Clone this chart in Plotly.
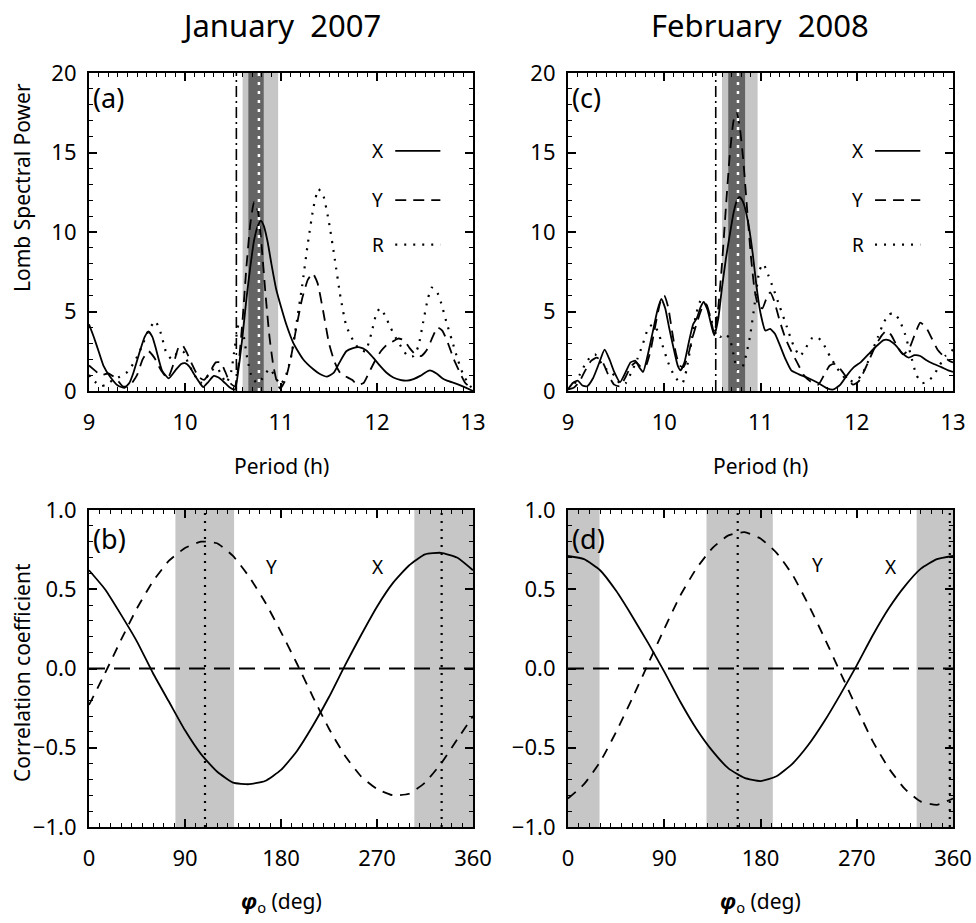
import plotly.graph_objects as go

W, H = 976, 923
FONT = "Noto Sans"

# ---------------- data: top panels (Lomb periodograms) ----------------
# (a) January 2007
xa_period = [9.00, 9.05, 9.10, 9.15, 9.22, 9.30, 9.37, 9.42, 9.46, 9.53, 9.58, 9.62, 9.66, 9.70, 9.76,
             9.83, 9.90, 9.96, 10.00, 10.05, 10.10, 10.16, 10.19, 10.24, 10.30, 10.35, 10.40, 10.47,
             10.52, 10.56, 10.60, 10.64, 10.68, 10.72, 10.76, 10.79, 10.82, 10.86, 10.90, 10.95, 11.00,
             11.06, 11.13, 11.23, 11.34, 11.41, 11.48, 11.55, 11.61, 11.68, 11.75, 11.82, 11.89, 11.96,
             12.03, 12.10, 12.17, 12.24, 12.31, 12.38, 12.45, 12.50, 12.55, 12.62, 12.68, 12.73, 12.83,
             12.93, 13.00]
xa_power = [4.2, 3.4, 2.5, 1.6, 0.9, 0.35, 0.2, 0.5, 1.1, 2.5, 3.4, 3.75, 3.4, 2.6, 1.3,
            0.8, 1.3, 1.7, 1.75, 1.5, 1.0, 0.45, 0.25, 0.55, 0.95, 0.85, 0.6, 0.2,
            0.1, 1.5, 3.5, 5.8, 7.8, 9.5, 10.4, 10.7, 10.4, 9.4, 8.0, 6.4, 5.3,
            4.1, 3.0, 2.0, 1.35, 1.05, 0.9, 1.15, 1.8, 2.5, 2.7, 2.75, 2.55, 2.1,
            1.6, 1.15, 0.85, 0.7, 0.65, 0.75, 0.95, 1.15, 1.3, 1.1, 0.8, 0.65, 0.45,
            0.2, 0.0]

ya_period = [9.0, 9.06, 9.12, 9.2, 9.28, 9.35, 9.42, 9.5, 9.56, 9.62, 9.68, 9.75, 9.82, 9.88, 9.93,
             9.97, 10.02, 10.08, 10.14, 10.2, 10.26, 10.32, 10.37, 10.42, 10.47, 10.52, 10.56, 10.6,
             10.64, 10.68, 10.72, 10.76, 10.8, 10.84, 10.88, 10.92, 10.96, 10.99, 11.04, 11.1, 11.16,
             11.22, 11.28, 11.33, 11.38, 11.44, 11.5, 11.56, 11.62, 11.68, 11.74, 11.8, 11.86, 11.92,
             11.98, 12.04, 12.1, 12.16, 12.22, 12.28, 12.34, 12.4, 12.46, 12.52, 12.58, 12.63, 12.68,
             12.74, 12.8, 12.86, 12.92, 13.0]
ya_power = [1.6, 1.3, 1.0, 1.1, 0.8, 0.3, 0.3, 1.0, 2.0, 2.5, 2.1, 1.3, 0.8, 1.7, 2.7,
            2.9, 2.4, 1.6, 0.9, 0.7, 1.2, 1.8, 1.8, 1.2, 0.5, 0.3, 1.8, 4.5,
            7.8, 10.5, 11.9, 11.3, 9.0, 6.0, 3.4, 1.6, 0.5, 0.15, 0.6, 2.0, 4.0,
            5.8, 7.0, 7.4, 6.8, 5.0, 3.0, 1.8, 1.1, 0.9, 0.7, 0.4, 0.5, 1.2,
            1.9, 2.5, 2.9, 3.1, 3.3, 3.2, 2.7, 2.3, 2.2, 2.6, 3.4, 4.0, 3.8,
            3.0, 2.0, 1.2, 0.5, 0.1]

ra_period = [9.0, 9.06, 9.12, 9.18, 9.25, 9.32, 9.4, 9.48, 9.55, 9.62, 9.69, 9.75, 9.8, 9.86, 9.92,
             9.98, 10.03, 10.1, 10.16, 10.22, 10.28, 10.33, 10.38, 10.43, 10.48, 10.52, 10.56, 10.6,
             10.65, 10.7, 10.76, 10.82, 10.88, 10.94, 10.99, 11.04, 11.1, 11.16, 11.22, 11.28, 11.34,
             11.39, 11.44, 11.5, 11.56, 11.62, 11.68, 11.75, 11.82, 11.88, 11.94, 11.99, 12.03, 12.08,
             12.14, 12.2, 12.26, 12.32, 12.38, 12.43, 12.48, 12.53, 12.57, 12.62, 12.67, 12.72, 12.78,
             12.84, 12.9, 12.96, 13.0]
ra_power = [1.0, 0.6, 0.3, 0.4, 0.7, 0.9, 1.2, 1.9, 2.8, 3.8, 4.4, 3.6, 2.5, 2.0, 2.4,
            2.5, 1.8, 1.0, 0.5, 0.8, 1.3, 1.5, 1.0, 0.5, 1.2, 2.8, 4.2, 3.8,
            2.0, 0.8, 0.5, 0.9, 1.4, 0.9, 0.4, 0.8, 2.0, 4.2, 6.6, 9.3, 11.6,
            12.7, 12.3, 10.6, 8.3, 5.9, 4.1, 3.2, 2.6, 2.5, 3.6, 4.8, 5.2, 4.8,
            4.0, 3.3, 2.7, 2.2, 2.2, 2.8, 4.3, 5.8, 6.5, 6.3, 5.5, 4.4, 3.2,
            2.0, 1.0, 0.4, 0.1]

# (c) February 2008
xc_period = [9.0, 9.05, 9.1, 9.15, 9.2, 9.26, 9.32, 9.38, 9.43, 9.48, 9.54, 9.6, 9.65, 9.7, 9.74,
             9.78, 9.83, 9.88, 9.93, 9.97, 10.01, 10.05, 10.1, 10.14, 10.17, 10.21, 10.26, 10.3,
             10.34, 10.38, 10.41, 10.45, 10.49, 10.52, 10.56, 10.6, 10.64, 10.68, 10.72, 10.75,
             10.78, 10.81, 10.84, 10.88, 10.92, 10.96, 11.0, 11.05, 11.1, 11.15, 11.2, 11.26, 11.32,
             11.4, 11.5, 11.6, 11.7, 11.76, 11.83, 11.9, 11.97, 12.04, 12.12, 12.2, 12.28, 12.33,
             12.4, 12.47, 12.54, 12.6, 12.66, 12.72, 12.8, 12.88, 12.95, 13.0]
xc_power = [0.1, 0.5, 0.65, 0.35, 0.3, 0.8, 1.7, 2.6, 2.0, 1.2, 0.55, 1.2, 1.8, 1.9, 1.5,
            1.2, 2.3, 3.7, 5.1, 5.8, 5.2, 4.0, 2.6, 1.6, 1.3, 1.8, 3.2, 4.2,
            4.6, 5.3, 5.6, 5.1, 4.1, 3.5, 4.5, 6.5, 8.3, 9.8, 11.2, 11.9,
            12.2, 12.0, 11.5, 10.3, 8.6, 6.5, 4.9, 3.8, 3.9, 3.6, 2.9, 2.0, 1.3,
            1.05, 0.8, 0.5, 0.15, 0.1, 0.4, 1.0, 1.5, 1.8, 2.3, 2.8, 3.2, 3.2,
            2.9, 2.4, 2.1, 2.25, 2.2, 1.95, 1.7, 1.5, 1.3, 1.2]

yc_period = [9.0, 9.06, 9.12, 9.18, 9.24, 9.3, 9.36, 9.42, 9.48, 9.54, 9.6, 9.66, 9.71, 9.76, 9.81,
             9.86, 9.91, 9.96, 10.0, 10.04, 10.08, 10.12, 10.16, 10.2, 10.25, 10.3, 10.35, 10.4,
             10.44, 10.48, 10.52, 10.56, 10.6, 10.64, 10.68, 10.72, 10.75, 10.78, 10.82, 10.86, 10.9,
             10.94, 10.98, 11.02, 11.06, 11.1, 11.14, 11.2, 11.26, 11.32, 11.38, 11.45, 11.52, 11.6,
             11.66, 11.72, 11.78, 11.84, 11.9, 11.96, 12.02, 12.08, 12.14, 12.2, 12.26, 12.31, 12.36,
             12.42, 12.48, 12.54, 12.6, 12.66, 12.72, 12.78, 12.84, 12.9, 12.96, 13.0]
yc_power = [0.1, 0.2, 0.6, 1.3, 1.9, 2.1, 1.8, 1.0, 0.4, 0.3, 0.9, 1.6, 1.8, 1.5, 1.6,
            2.6, 4.2, 5.6, 6.0, 5.3, 3.8, 2.4, 1.6, 1.5, 2.3, 3.5, 4.5, 5.3,
            5.4, 4.6, 3.6, 5.2, 8.0, 11.5, 14.8, 17.0, 17.5, 16.8, 14.6, 11.5, 8.5,
            6.3, 5.3, 5.2, 5.8, 6.2, 5.7, 4.4, 3.3, 2.5, 1.8, 1.0, 0.6, 0.4,
            1.0, 1.6, 1.7, 1.3, 0.8, 0.4, 0.6, 1.3, 2.1, 2.9, 3.5, 3.8, 3.5,
            2.8, 2.3, 2.6, 3.5, 4.3, 4.0, 3.3, 2.6, 2.2, 1.9, 1.8]

rc_period = [9.0, 9.06, 9.12, 9.18, 9.24, 9.28, 9.33, 9.39, 9.45, 9.5, 9.55, 9.6, 9.66, 9.72, 9.78,
             9.83, 9.88, 9.93, 9.98, 10.04, 10.1, 10.15, 10.19, 10.23, 10.28, 10.33, 10.38, 10.43,
             10.48, 10.53, 10.58, 10.63, 10.68, 10.72, 10.76, 10.8, 10.84, 10.89, 10.94, 10.99, 11.03,
             11.08, 11.13, 11.2, 11.27, 11.34, 11.41, 11.47, 11.53, 11.59, 11.65, 11.72, 11.8, 11.88,
             11.96, 12.04, 12.1, 12.16, 12.22, 12.28, 12.33, 12.38, 12.44, 12.5, 12.56, 12.62, 12.68,
             12.74, 12.8, 12.86, 12.92, 13.0]
rc_power = [0.1, 0.4, 1.0, 1.7, 2.2, 2.3, 1.9, 1.4, 1.2, 0.8, 0.4, 0.5, 1.2, 2.0, 3.0,
            3.9, 4.2, 3.8, 2.9, 1.8, 1.0, 0.6, 0.5, 1.3, 3.0, 4.8, 5.7, 5.5,
            4.6, 3.8, 3.4, 3.6, 3.3, 2.3, 1.3, 1.3, 2.0, 3.4, 5.5, 7.6, 8.0,
            7.3, 6.5, 5.3, 4.1, 2.9, 2.2, 2.7, 3.3, 3.4, 3.0, 2.2, 1.4, 0.8,
            0.6, 0.9, 1.6, 2.5, 3.4, 4.3, 4.8, 4.9, 4.5, 3.6, 2.3, 1.0, 0.5,
            0.6, 1.0, 1.6, 2.2, 2.6]

# bands / markers on the period axis
band_light_a = [10.60, 10.97]
band_dark_a = [10.66, 10.82]
peak_a = 10.77
dashdot_a = 10.535
band_light_c = [10.60, 10.97]
band_dark_c = [10.665, 10.84]
peak_c = 10.766
dashdot_c = 10.535

# ---------------- data: bottom panels (correlation vs phase) ----------------
phase = [0, 15, 30, 45, 60, 75, 90, 105, 120, 135, 150, 165, 180, 195, 210, 225, 240, 255, 270,
         285, 300, 315, 330, 345, 360]
xb_corr = [0.62, 0.50, 0.34, 0.17, -0.03, -0.21, -0.39, -0.54, -0.65, -0.72, -0.73, -0.71, -0.64,
           -0.52, -0.36, -0.18, 0.02, 0.21, 0.39, 0.54, 0.65, 0.72, 0.73, 0.70, 0.62]
yb_corr = [-0.23, -0.03, 0.18, 0.38, 0.55, 0.68, 0.76, 0.80, 0.79, 0.71, 0.58, 0.42, 0.23,
           0.03, -0.18, -0.38, -0.55, -0.68, -0.76, -0.80, -0.79, -0.72, -0.60, -0.45, -0.30]
xd_corr = [0.71, 0.69, 0.62, 0.49, 0.33, 0.16, -0.02, -0.21, -0.38, -0.52, -0.63, -0.69, -0.71,
           -0.68, -0.60, -0.48, -0.33, -0.16, 0.02, 0.21, 0.38, 0.52, 0.63, 0.69, 0.71]
yd_corr = [-0.82, -0.73, -0.59, -0.40, -0.19, 0.03, 0.25, 0.46, 0.63, 0.76, 0.84, 0.86, 0.82,
           0.73, 0.59, 0.40, 0.19, -0.03, -0.25, -0.46, -0.63, -0.76, -0.84, -0.86, -0.82]

bands_b = [[81, 136], [305, 360]]
dotted_b = [108.75, 330.6]
bands_d = [[0, 29.5], [129.5, 191.5], [326, 360]]
dotted_d = [158.7, 357.0]

titles = ["January\u00a0\u00a02007", "February\u00a0\u00a02008"]
panel_tags = ["(a)", "(c)", "(b)", "(d)"]

# ---------------- layout geometry (pixels) ----------------
LX = (89, 473)
RX = (568, 953)
TY = (73, 391)
BY = (510, 827)


def px(x):
    return x / W


def py(y):
    return 1 - y / H


fig = go.Figure()


def add_line(x, y, xa, ya, dash, width=1.8):
    fig.add_trace(go.Scatter(
        x=x, y=y, xaxis=xa, yaxis=ya, mode="lines",
        line=dict(color="black", width=width, dash=dash, shape="spline", smoothing=0.5),
        hoverinfo="skip", showlegend=False))


DASH_Y = "11px,7px"
DOT_R = "2px,7px"

add_line(xa_period, xa_power, "x", "y", "solid")
add_line(ya_period, ya_power, "x", "y", DASH_Y)
add_line(ra_period, ra_power, "x", "y", DOT_R, 2.2)
add_line(xc_period, xc_power, "x2", "y2", "solid")
add_line(yc_period, yc_power, "x2", "y2", DASH_Y)
add_line(rc_period, rc_power, "x2", "y2", DOT_R, 2.2)

add_line(phase, xb_corr, "x3", "y3", "solid")
add_line(phase, yb_corr, "x3", "y3", "10px,8px")
add_line(phase, xd_corr, "x4", "y4", "solid")
add_line(phase, yd_corr, "x4", "y4", "10px,8px")

tickfont = dict(family=FONT, size=22, color="black")


def axis(domain, rng, dtick, mdtick, anchor, fmt=None, standoff=4):
    d = dict(domain=domain, range=rng, tickmode="linear", tick0=rng[0], dtick=dtick,
             ticks="inside", ticklen=8, tickwidth=1.6, tickcolor="black",
             minor=dict(dtick=mdtick, tick0=rng[0], ticks="inside", ticklen=4, tickwidth=1.3,
                        tickcolor="black", showgrid=False),
             showline=True, linewidth=2.2, linecolor="black", mirror="allticks",
             showgrid=False, zeroline=False, tickfont=tickfont, anchor=anchor,
             ticklabelstandoff=standoff, fixedrange=True, automargin=False)
    if fmt:
        d["tickformat"] = fmt
    return d


xdomL = [px(LX[0]), px(LX[1])]
xdomR = [px(RX[0]), px(RX[1])]
ydomT = [py(TY[1]), py(TY[0])]
ydomB = [py(BY[1]), py(BY[0])]

fig.update_layout(
    template="none",
    width=W, height=H, margin=dict(l=0, r=0, t=0, b=0, pad=0), autosize=False,
    paper_bgcolor="white", plot_bgcolor="white", showlegend=False,
    font=dict(family=FONT, color="black"),
    xaxis=axis(xdomL, [9, 13], 1, 0.1, "y", standoff=10),
    yaxis=axis(ydomT, [0, 20], 5, 1, "x", standoff=6),
    xaxis2=axis(xdomR, [9, 13], 1, 0.1, "y2", standoff=10),
    yaxis2=axis(ydomT, [0, 20], 5, 1, "x2", standoff=6),
    xaxis3=axis(xdomL, [0, 360], 90, 10, "y3", standoff=10),
    yaxis3=axis(ydomB, [-1, 1], 0.5, 0.1, "x3", fmt=".1f", standoff=6),
    xaxis4=axis(xdomR, [0, 360], 90, 10, "y4", standoff=10),
    yaxis4=axis(ydomB, [-1, 1], 0.5, 0.1, "x4", fmt=".1f", standoff=6),
)

shapes = []
LIGHT = "#c6c6c6"
DARK = "#646464"


def vband(xr, x0, x1, color):
    shapes.append(dict(type="rect", xref=xr, yref=xr.replace("x", "y") + " domain",
                       x0=x0, x1=x1, y0=0, y1=1, fillcolor=color, line=dict(width=0),
                       layer="below"))


def vline(xr, x, color, dash, width):
    shapes.append(dict(type="line", xref=xr, yref=xr.replace("x", "y") + " domain",
                       x0=x, x1=x, y0=0, y1=1, line=dict(color=color, dash=dash, width=width),
                       layer="above"))


for xr, bl, bd, pk, dd in [("x", band_light_a, band_dark_a, peak_a, dashdot_a),
                           ("x2", band_light_c, band_dark_c, peak_c, dashdot_c)]:
    vband(xr, bl[0], bl[1], LIGHT)
    vband(xr, bd[0], bd[1], DARK)
    vline(xr, pk, "white", "3px,6px", 2.5)
    vline(xr, dd, "black", "11px,4px,2px,4px", 1.6)

for xr, bands, dots in [("x3", bands_b, dotted_b), ("x4", bands_d, dotted_d)]:
    for b in bands:
        vband(xr, b[0], b[1], LIGHT)
    for d in dots:
        vline(xr, d, "black", "2px,6px", 2.2)
    yr = xr.replace("x", "y")
    shapes.append(dict(type="line", xref=xr, yref=yr, x0=0, x1=360, y0=0, y1=0,
                       line=dict(color="black", dash="16px,9px", width=2), layer="above"))

annotations = []

# legend inside top panels
for xr, yr in [("x", "y"), ("x2", "y2")]:
    for lab, yv, dash, wd in [("X", 15.1, "solid", 1.8), ("Y", 12.0, DASH_Y, 1.8),
                              ("R", 9.2, DOT_R, 2.2)]:
        annotations.append(dict(x=12.01, y=yv, xref=xr, yref=yr, text=lab, showarrow=False,
                                font=dict(family=FONT, size=19, color="black"),
                                xanchor="center", yanchor="middle"))
        shapes.append(dict(type="line", xref=xr, yref=yr, x0=12.19, x1=12.66, y0=yv, y1=yv,
                           line=dict(color="black", dash=dash, width=wd), layer="above"))

# curve labels in bottom panels
for xr, yr, pos in [("x3", "y3", [("Y", 171, 0.64), ("X", 271, 0.64)]),
                    ("x4", "y4", [("Y", 233, 0.65), ("X", 302, 0.64)])]:
    for lab, xv, yv in pos:
        annotations.append(dict(x=xv, y=yv, xref=xr, yref=yr, text=lab, showarrow=False,
                                font=dict(family=FONT, size=19, color="black"),
                                xanchor="center", yanchor="middle"))

# panel tags
for tag, (x, y) in zip(panel_tags, [(91, 97), (570, 97), (91, 538), (570, 538)]):
    annotations.append(dict(x=px(x), y=py(y), xref="paper", yref="paper", text=tag,
                            showarrow=False, font=dict(family=FONT, size=27, color="black"),
                            xanchor="left", yanchor="middle"))

# titles
for t, xc in zip(titles, [281, 760]):
    annotations.append(dict(x=px(xc), y=py(25), xref="paper", yref="paper", text=t,
                            showarrow=False, font=dict(family=FONT, size=31, color="black"),
                            xanchor="center", yanchor="middle"))

# axis titles
for xc in [281, 760]:
    annotations.append(dict(x=px(xc), y=py(466), xref="paper", yref="paper",
                            text="Period (h)", showarrow=False,
                            font=dict(family=FONT, size=21, color="black"),
                            xanchor="center", yanchor="middle"))
    annotations.append(dict(x=px(xc), y=py(902), xref="paper", yref="paper",
                            text="<b><i>φ</i></b><sub>o</sub> (deg)", showarrow=False,
                            font=dict(family=FONT, size=21, color="black"),
                            xanchor="center", yanchor="middle"))

annotations.append(dict(x=px(22), y=py(188), xref="paper", yref="paper",
                        text="Lomb Spectral Power", textangle=-90, showarrow=False,
                        font=dict(family=FONT, size=21, color="black"),
                        xanchor="center", yanchor="middle"))
annotations.append(dict(x=px(22), y=py(673), xref="paper", yref="paper",
                        text="Correlation coefficient", textangle=-90, showarrow=False,
                        font=dict(family=FONT, size=21, color="black"),
                        xanchor="center", yanchor="middle"))

fig.update_layout(shapes=shapes, annotations=annotations)

fig.write_html(
    "out.html",
    config={"displayModeBar": False},
    post_script="document.body.style.margin='0';document.body.style.overflow='hidden';",
)
